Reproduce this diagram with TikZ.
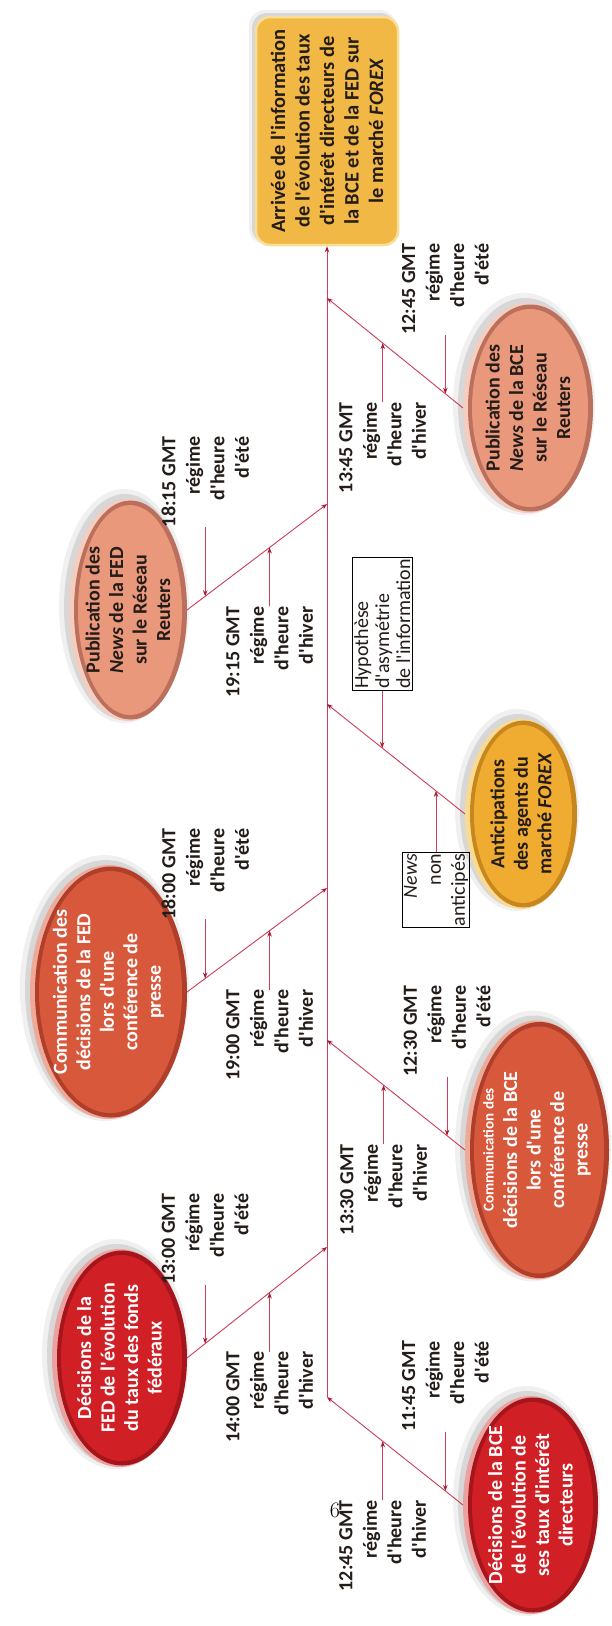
\documentclass[tikz,border=0pt]{standalone}
\usepackage{fontspec}
\newfontfamily\carl{Carlito}
\usetikzlibrary{arrows.meta,calc,shapes.geometric}
\definecolor{lineC}{RGB}{205,60,90}
\definecolor{arrC}{RGB}{170,25,50}
\definecolor{decM}{RGB}{208,32,38}
\definecolor{decL}{RGB}{236,160,160}
\definecolor{decD}{RGB}{165,22,28}
\definecolor{comM}{RGB}{216,88,60}
\definecolor{comL}{RGB}{238,170,152}
\definecolor{comD}{RGB}{175,62,42}
\definecolor{pubM}{RGB}{234,152,124}
\definecolor{pubL}{RGB}{245,205,190}
\definecolor{pubD}{RGB}{186,112,92}
\definecolor{antM}{RGB}{240,172,48}
\definecolor{antL}{RGB}{249,218,145}
\definecolor{antD}{RGB}{200,135,30}
\definecolor{boxM}{RGB}{242,184,70}
\definecolor{boxL}{RGB}{248,222,150}
\definecolor{darktext}{RGB}{35,28,25}
\tikzset{
 conn/.style={draw=lineC, line width=0.9pt, -{Stealth[length=6pt,width=4.5pt,color=arrC]}},
 lbl/.style={rotate=90, align=right, inner sep=0pt, font=\carl\bfseries\fontsize{20}{24.5}\selectfont, text=darktext},
 blobtext/.style={ellipse, rotate=90, inner sep=-30pt, outer sep=0pt, align=center, font=\carl\bfseries\fontsize{20}{23.5}\selectfont},
 whitetext/.style={text=white},
 pubtext/.style={text=darktext},
 anttext/.style={text=darktext},
 topbox/.style={rectangle, rotate=90, rounded corners=14pt, fill=boxM, draw=boxL, line width=2.5pt, minimum width=228pt, minimum height=142pt, align=center, inner sep=0pt, font=\carl\bfseries\fontsize{20.5}{24.5}\selectfont, text=darktext},
 hypbox/.style={rectangle, rotate=90, draw=black, line width=0.7pt, align=left, inner sep=2pt, font=\carl\fontsize{20}{21}\selectfont, text=darktext},
 newsbox/.style={rectangle, rotate=90, draw=black, line width=0.7pt, align=right, inner sep=1.5pt, font=\carl\fontsize{20}{24}\selectfont, text=darktext},
}
% #1 name, #2 cx, #3 cy (down), #4 width, #5 height, #6 colour prefix, #7 text style, #8 text
\newcommand\blob[8]{%
  \fill[black,opacity=0.06] ({#2-4},{-#3+4}) ellipse [x radius={#4/2+6}, y radius={#5/2+6}];
  \fill[black,opacity=0.10] ({#2-3},{-#3+3}) ellipse [x radius={#4/2+2}, y radius={#5/2+2}];
  \fill[#6L] (#2,-#3) ellipse [x radius={#4/2}, y radius={#5/2}];
  \fill[#6D] ({#2+2.5},-#3) ellipse [x radius={#4/2-2.5}, y radius={#5/2-1.5}];
  \fill[#6M] ({#2+2},-#3) ellipse [x radius={#4/2-7}, y radius={#5/2-6}];
  \node[blobtext, minimum width=#5, minimum height=#4, #7] (#1) at (#2,-#3) {#8};
}
% #1 ellipse anchor, #2 junction, #3 prefix, #4 summer time, #5 winter time, #6 extra lift of the summer label
\newcommand\stamps[6]{%
  \coordinate (#3e) at ($(#2)!0.87!(#1)$);
  \coordinate (#3h) at ($(#2)!0.41!(#1)$);
  \node[lbl, anchor=west] (#3E) at ($(#3e)+(0,59+#6)$) {#4 GMT\\régime\\d'heure\\d'été};
  \draw[conn] (#3E.west) -- (#3e);
  \node[lbl, anchor=east] (#3H) at ($(#3h)+(0,-59)$) {#5 GMT\\régime\\d'heure\\d'hiver};
  \draw[conn] (#3H.east) -- (#3h);
}
\begin{document}
\begin{tikzpicture}[x=1pt,y=1pt]
\useasboundingbox (0,0) rectangle (612,-1626);
\fill[white] (0,0) rectangle (612,-1626);

% top box
\fill[black,opacity=.06,rounded corners=16pt] (249,-10) rectangle (396,-244);
\fill[black,opacity=.10,rounded corners=15pt] (252,-13) rectangle (395,-243);
\node[topbox] (box) at (327,-131) {Arrivée de l'information\\de l'évolution des taux\\d'intérêt directeurs de\\la BCE et de la FED sur\\le marché \textit{FOREX}};

% ellipses
\blob{pb}{528}{408}{130}{210}{pub}{pubtext}{Publication des\\\textit{News} de la BCE\\sur le Réseau\\Reuters}
\blob{pf}{128}{610}{118}{222}{pub}{pubtext}{Publication des\\\textit{News} de la FED\\sur le Réseau\\Reuters}
\blob{an}{521}{814}{112}{190}{ant}{anttext}{Anticipations\\des agents du\\marché \textit{FOREX}}
\blob{cf}{108.5}{992}{157}{254}{com}{whitetext}{Communication des\\décisions de la FED\\lors d'une\\conférence de\\presse}
\blob{cb}{537}{1150}{144}{259}{com}{whitetext}{{\fontsize{15}{18}\selectfont Communication des}\\décisions de la BCE\\lors d'une\\conférence de\\presse}
\blob{fd}{119.5}{1358}{135}{218}{dec}{whitetext}{Décisions de la\\FED de l'évolution\\du taux des fonds\\fédéraux}
\blob{bd}{530.5}{1505}{135}{218}{dec}{whitetext}{Décisions de la BCE\\de l'évolution de\\ses taux d'intérêt\\directeurs}

% junctions on the time line
\coordinate (jpb) at (327,-298);
\coordinate (jpf) at (327,-504);
\coordinate (jan) at (327,-704);
\coordinate (jcf) at (327,-888);
\coordinate (jcb) at (327,-1040);
\coordinate (jfd) at (327,-1247);
\coordinate (jbd) at (327,-1397);

\draw[conn] (jbd) -- (box.west);

\draw[conn] (pb.north) -- (jpb);
\draw[conn] (pf.south) -- (jpf);
\draw[conn] (an.north) -- (jan);
\draw[conn] (cf.south) -- (jcf);
\draw[conn] (cb.north) -- (jcb);
\draw[conn] (fd.south) -- (jfd);
\draw[conn] (bd.north) -- (jbd);

\stamps{pb.north}{jpb}{pb}{12:45}{13:45}{0}
\stamps{pf.south}{jpf}{pf}{18:15}{19:15}{10}
\stamps{cf.south}{jcf}{cf}{18:00}{19:00}{0}
\stamps{cb.north}{jcb}{cb}{12:30}{13:30}{0}
\stamps{fd.south}{jfd}{fd}{13:00}{14:00}{0}
\stamps{bd.north}{jbd}{bd}{11:45}{12:45}{0}

% anticipations
\coordinate (anhy) at ($(jan)!0.40!(an.north)$);
\coordinate (annw) at ($(jan)!0.79!(an.north)$);
\node[hypbox, anchor=west] (hyp) at ($(anhy)+(0,57)$) {Hypothèse\\d'asymétrie\\de l'information};
\draw[conn] (hyp.west) -- (anhy);
\node[newsbox, anchor=east] (news) at ($(annw)+(0,-61)$) {\textit{News}\\non\\anticipés};
\draw[conn] (news.east) -- (annw);

% page number
\node[font=\fontsize{22}{24}\selectfont, inner sep=0pt] (pg) at (335,-1510) {6};
\end{tikzpicture}
\end{document}
